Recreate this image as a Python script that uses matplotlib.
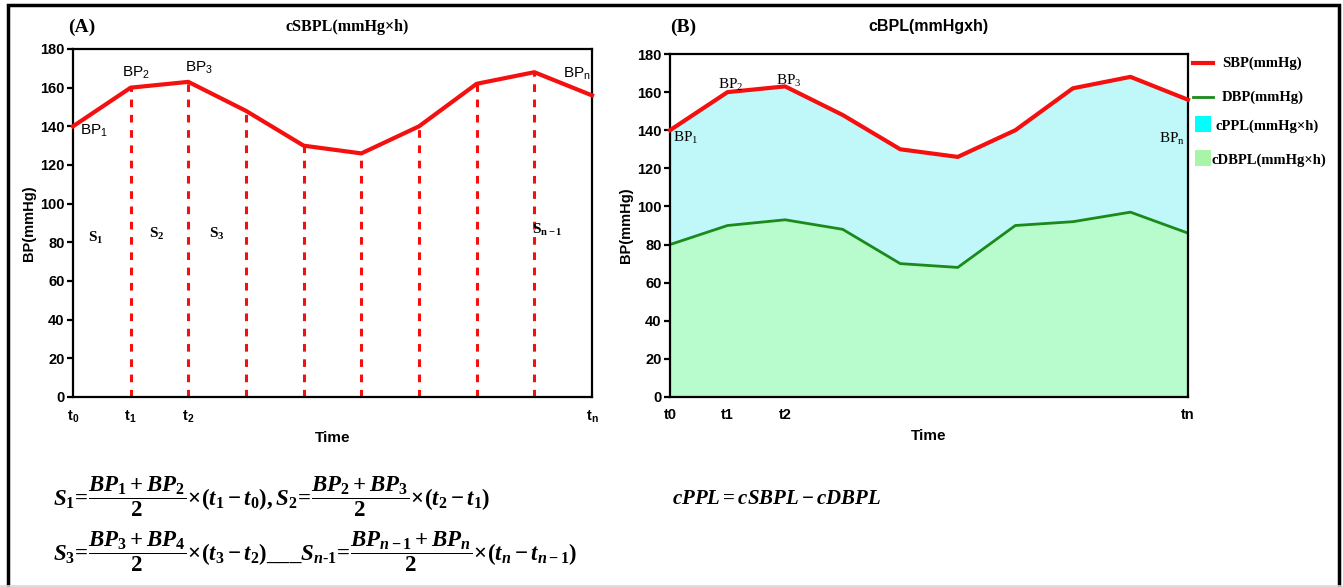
"""
Cumulative blood pressure load: trapezoid areas (A) and SBP/DBP bands (B).
"""

import matplotlib
matplotlib.use("Agg")
import matplotlib.pyplot as plt
from matplotlib.patches import Rectangle
from matplotlib.lines import Line2D

# ---- data ----
time_idx = [0, 1, 2, 3, 4, 5, 6, 7, 8, 9]
sbp = [140, 160, 163, 148, 130, 126, 140, 162, 168, 156]
dbp = [80, 90, 93, 88, 70, 68, 90, 92, 97, 86]

ticks_a = [0, 1, 2, 9]
ticklabels_a = ["$\\mathregular{t_0}$", "$\\mathregular{t_1}$",
                "$\\mathregular{t_2}$", "$\\mathregular{t_n}$"]
ticklabels_b = ["t0", "t1", "t2", "tn"]
yticks = [0, 20, 40, 60, 80, 100, 120, 140, 160, 180]

RED = "#f51010"
GREEN = "#1a8a1a"
CYAN_FILL = "#c0f8fa"
GREEN_FILL = "#b8fbcc"

plt.rcParams.update({
    "font.family": "Liberation Sans",
    "mathtext.fontset": "custom",
    "mathtext.rm": "Liberation Serif:bold",
    "mathtext.it": "Liberation Serif:bold:italic",
    "mathtext.bf": "Liberation Serif:bold",
})

SERIF = "Liberation Serif"

fig = plt.figure(figsize=(13.43, 5.87), dpi=100)
W, H = 1343, 587


def px(x, y):
    return x / W, 1 - y / H


def style_axes(ax):
    ax.set_xlim(0, 9)
    ax.set_ylim(0, 180)
    ax.set_yticks(yticks)
    for s in ax.spines.values():
        s.set_linewidth(1.6)
    ax.tick_params(axis="y", direction="out", width=1.6, length=4,
                   labelsize=10.5, pad=2)
    ax.tick_params(axis="x", length=0, labelsize=10.5, pad=8)
    for lab in ax.get_yticklabels():
        lab.set_fontweight("bold")
    ax.set_xlabel("Time", fontsize=11, fontweight="bold", labelpad=5)
    ax.set_ylabel("BP(mmHg)", fontsize=10.5, fontweight="bold", labelpad=3)


# ---------------- panel A ----------------
axA = fig.add_axes([73 / W, 1 - 397 / H, (592 - 73) / W, (397 - 49) / H])
for x, y in zip(time_idx[1:-1], sbp[1:-1]):
    axA.plot([x, x], [0, y], color=RED, lw=2.2, ls=(0, (2.5, 2.5)))
axA.plot(time_idx, sbp, color=RED, lw=3, clip_on=False, zorder=5)
style_axes(axA)
axA.set_xticks(ticks_a)
axA.set_xticklabels(ticklabels_a, fontweight="bold")

for txt, xp, yp in [("BP$\\mathregular{_1}$", 80, 131), ("BP$\\mathregular{_2}$", 122, 73),
                    ("BP$\\mathregular{_3}$", 185, 68), ("BP$\\mathregular{_n}$", 563, 74)]:
    fig.text(*px(xp, yp), txt, fontsize=11, ha="left", va="center")

s_labels = [("S$\\mathregular{_1}$", 96, 238), ("S$\\mathregular{_2}$", 157, 234),
            ("S$\\mathregular{_3}$", 217, 234), ("S$\\mathregular{_{n-1}}$", 547, 230)]
for txt, xp, yp in s_labels:
    fig.text(*px(xp, yp), txt, fontsize=11, ha="center", va="center",
             family=SERIF, fontweight="bold")

fig.text(*px(82, 27), "(A)", fontsize=14, fontweight="bold", family=SERIF,
         ha="center", va="center")
fig.text(*px(347, 27), "cSBPL(mmHg×h)", fontsize=11.5, fontweight="bold",
         family=SERIF, ha="center", va="center")

# ---------------- panel B ----------------
axB = fig.add_axes([670 / W, 1 - 397 / H, (1188 - 670) / W, (397 - 54) / H])
axB.fill_between(time_idx, 0, dbp, color=GREEN_FILL, lw=0)
axB.fill_between(time_idx, dbp, sbp, color=CYAN_FILL, lw=0)
axB.plot(time_idx, dbp, color=GREEN, lw=2)
axB.plot(time_idx, sbp, color=RED, lw=3, clip_on=False, zorder=5)
style_axes(axB)
axB.set_xticks(ticks_a)
axB.set_xticklabels(ticklabels_b, fontweight="bold")

for txt, xp, yp in [("BP$\\mathregular{_1}$", 686, 138), ("BP$\\mathregular{_2}$", 731, 85),
                    ("BP$\\mathregular{_3}$", 789, 81), ("BP$\\mathregular{_n}$", 1172, 139)]:
    fig.text(*px(xp, yp), txt, fontsize=11, ha="center", va="center",
             family=SERIF)

fig.text(*px(683, 27), "(B)", fontsize=14, fontweight="bold", family=SERIF,
         ha="center", va="center")
fig.text(*px(928, 27), "cBPL(mmHgxh)", fontsize=11.5, fontweight="bold",
         ha="center", va="center")

# legend drawn by hand (uneven spacing in the reference)
leg = [("line", RED, 3, "SBP(mmHg)", 63),
       ("line", GREEN, 2, "DBP(mmHg)", 97),
       ("box", "#00ffff", 0, "cPPL(mmHg×h)", 124),
       ("box", "#a8f5a8", 0, "cDBPL(mmHg×h)", 158)]
for kind, col, lw, txt, yp in leg:
    if kind == "line":
        x0, y0 = px(1193, yp)
        x1, _ = px(1213, yp)
        fig.add_artist(Line2D([x0, x1], [y0, y0], color=col, lw=lw))
        fig.text(*px(1222, yp), txt, fontsize=10.5, fontweight="bold",
                 family=SERIF, ha="left", va="center")
    else:
        x0, y0 = px(1195, yp + 8)
        fig.add_artist(Rectangle((x0, y0), 16 / W, 16 / H, color=col, lw=0))
        fig.text(*px(1216 if txt.startswith("cP") else 1212, yp + 2), txt,
                 fontsize=10.5, fontweight="bold", family=SERIF,
                 ha="left", va="center")

# ---------------- formulas ----------------
FORM = dict(ha="left", va="center")
f1 = (r"$\mathit{S}_1\!=\!\dfrac{\mathit{BP}_1+\mathit{BP}_2}{2}\!\times\!(\mathit{t}_1-\mathit{t}_0),"
      r"\mathit{S}_2\!=\!\dfrac{\mathit{BP}_2+\mathit{BP}_3}{2}\!\times\!(\mathit{t}_2-\mathit{t}_1)$")
f2 = (r"$\mathit{S}_3\!=\!\dfrac{\mathit{BP}_3+\mathit{BP}_4}{2}\!\times\!(\mathit{t}_3-\mathit{t}_2)"
      r"\_\_\_\mathit{S}_{n\text{-}1}\!=\!\dfrac{\mathit{BP}_{n-1}+\mathit{BP}_n}{2}"
      r"\!\times\!(\mathit{t}_n-\mathit{t}_{n-1})$")
fig.text(*px(53, 497), f1, fontsize=16.5, **FORM)
fig.text(*px(53, 552), f2, fontsize=16.5, **FORM)
fig.text(*px(672, 498), r"$\mathit{cPPL}=\mathit{cSBPL}-\mathit{cDBPL}$",
         fontsize=15, **FORM)

# outer frame
fig.add_artist(Rectangle((8 / W, -0.02), (1339 - 8) / W, 1.02 - 5 / H,
                         fill=False, lw=2.5, ec="black"))
fig.add_artist(Line2D([0, 1], [1 - 586 / H] * 2, color="#d8d8d8", lw=1.2))

fig.savefig("out.png", dpi=100)
